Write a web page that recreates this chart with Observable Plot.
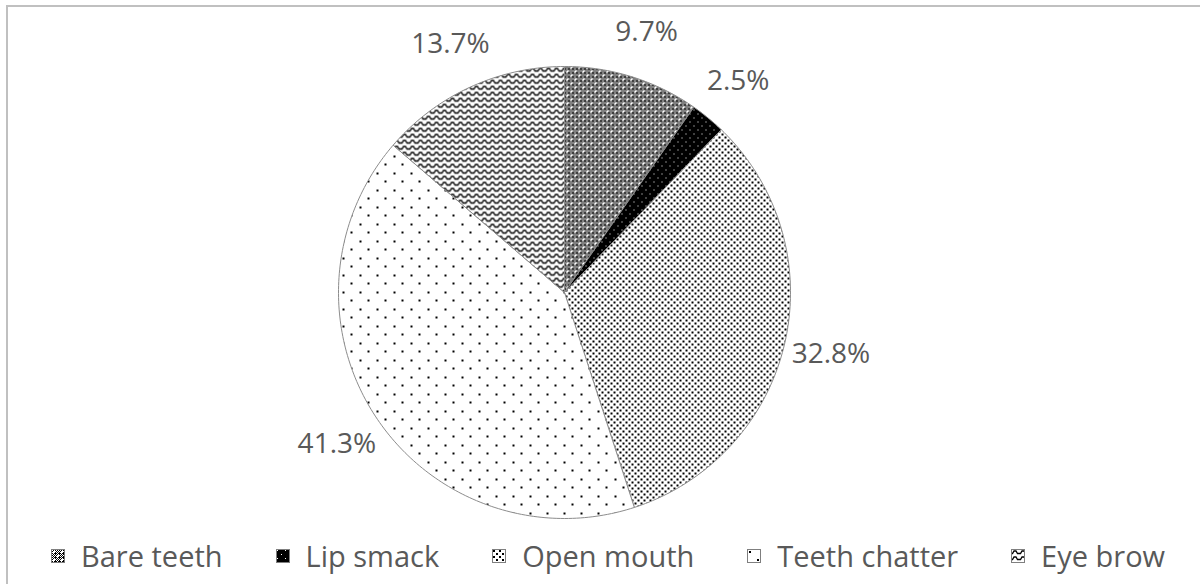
<!DOCTYPE html>
<html><head><meta charset="utf-8">
<script src="https://cdn.jsdelivr.net/npm/d3@7"></script>
<script src="https://cdn.jsdelivr.net/npm/@observablehq/plot@0.6"></script>
<style>
html,body{margin:0;padding:0;background:#fff;}
body{width:1200px;height:584px;position:relative;overflow:hidden;font-family:"Open Sans",sans-serif;}
#frame{position:absolute;left:6px;top:5px;width:1300px;height:700px;border:2px solid #c0c0c0;box-sizing:border-box;}
#chart{position:absolute;left:0;top:0;}
#legend{position:absolute;left:51px;top:536px;display:flex;align-items:center;gap:53px;font-size:29px;line-height:40px;color:#595959;white-space:nowrap;}
.item{display:flex;align-items:center;}
.item svg{margin-right:16px;display:block;}
</style></head><body>
<div id="frame"></div>
<svg id="defs" width="0" height="0" style="position:absolute;left:0;top:0"></svg>
<div id="chart"></div>
<div id="legend"></div>
<script>
// ---- data ----
const categories = ["Bare teeth", "Lip smack", "Open mouth", "Teeth chatter", "Eye brow"];
const percents = [9.7, 2.5, 32.8, 41.3, 13.7];
const labelTexts = percents.map(p => p.toFixed(1) + "%");
const patternIds = ["pat-bare", "pat-lip", "pat-open", "pat-chatter", "pat-brow"];

// ---- patterns ----
const defs = d3.select("#defs").append("defs");
function pattern(id, w, h, bg) {
  const p = defs.append("pattern").attr("id", id).attr("patternUnits", "userSpaceOnUse")
    .attr("width", w).attr("height", h);
  p.append("rect").attr("width", w).attr("height", h).attr("fill", bg);
  return p;
}
function px(p, x, y, w, h, fill) {
  p.append("rect").attr("x", x).attr("y", y).attr("width", w).attr("height", h)
    .attr("fill", fill).attr("shape-rendering", "crispEdges");
}
// Bare teeth: checker board with small white spots
{
  const p = pattern("pat-bare", 8, 8, "#fff");
  const white = new Set(["3,2","2,3","7,6","6,7"]);
  for (let i = 0; i < 8; i++) for (let j = 0; j < 8; j++) {
    if ((i + j) % 2 === 1 && !white.has(i + "," + j)) px(p, i, j, 1, 1, "#000");
  }
  // extra dark pixels to deepen the tone
  [[0,0],[4,4],[0,4],[4,0]].forEach(([x,y]) => px(p, x, y, 1, 1, "#000"));
}
// Lip smack: black with white dots
{
  const p = pattern("pat-lip", 8, 8, "#000");
  [[1,1],[5,5]].forEach(([x,y]) => px(p, x, y, 1, 1, "#fff"));
}
// Open mouth: dense dots
{
  const p = pattern("pat-open", 6, 6, "#fff");
  [[1,1],[4,4]].forEach(([x,y]) => px(p, x, y, 2, 2, "#000"));
}
// Teeth chatter: sparse dots
{
  const p = pattern("pat-chatter", 17, 17, "#fff");
  [[2,2],[10,10]].forEach(([x,y]) => px(p, x, y, 2, 2, "#000"));
}
// Eye brow: waves
{
  const p = pattern("pat-brow", 8, 6, "#fff");
  p.append("path").attr("d", "M0,4.5 H1.5 L3,2 H5 L6.5,4.5 H8").attr("fill", "none")
    .attr("stroke", "#000").attr("stroke-width", 1.3);
}

// ---- pie geometry from data ----
const arcs = d3.pie().sort(null).value(d => d)(percents);
const slices = arcs.flatMap((a, i) => {
  const cat = categories[i], fill = `url(#${patternIds[i]})`;
  const pts = [{cat, fill, x: 0, y: 0}];
  const n = Math.max(2, Math.ceil((a.endAngle - a.startAngle) / (Math.PI / 180)));
  for (let k = 0; k <= n; k++) {
    const t = a.startAngle + (a.endAngle - a.startAngle) * k / n;
    pts.push({cat, fill, x: Math.sin(t), y: Math.cos(t)});
  }
  pts.push({cat, fill, x: 0, y: 0});
  return pts;
});
const labelRadius = 1.21;
const labels = arcs.map((a, i) => {
  const m = (a.startAngle + a.endAngle) / 2;
  return {text: labelTexts[i], x: labelRadius * Math.sin(m), y: labelRadius * Math.cos(m)};
});

const chart = Plot.plot({
  width: 1200,
  height: 530,
  margin: 0,
  x: {domain: [-1, 1], range: [338, 790], axis: null},
  y: {domain: [-1, 1], range: [518, 66], axis: null},
  color: {type: "identity"},
  style: {fontFamily: "Open Sans", background: "transparent", overflow: "visible"},
  marks: [
    Plot.line(slices, {x: "x", y: "y", z: "cat", fill: d => d.fill, stroke: "#8c8c8c", strokeWidth: 1, curve: "linear"}),
    Plot.text(labels, {x: "x", y: "y", text: "text", fontSize: 28, fill: "#595959"})
  ]
});
document.getElementById("chart").appendChild(chart);

// ---- legend ----
const legend = d3.select("#legend");
categories.forEach((c, i) => {
  const item = legend.append("div").attr("class", "item");
  const s = item.append("svg").attr("width", 14).attr("height", 14);
  s.append("rect").attr("x", 0.5).attr("y", 0.5).attr("width", 13).attr("height", 13)
    .attr("fill", `url(#${patternIds[i]})`).attr("stroke", "#7f7f7f").attr("stroke-width", 1);
  item.append("span").text(c);
});
</script>
</body></html>
